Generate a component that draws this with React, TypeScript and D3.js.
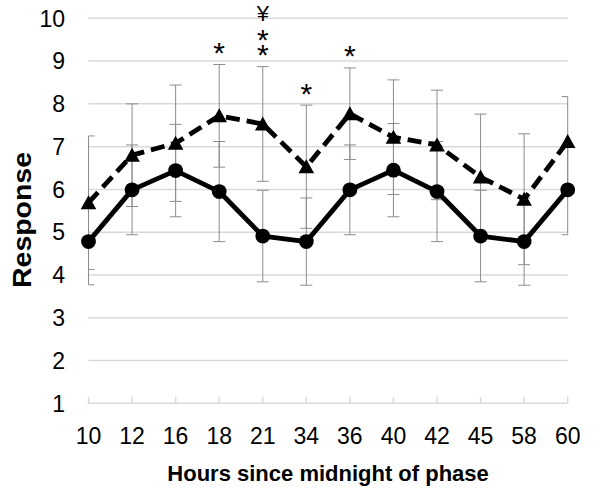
import React from 'react';
import * as d3 from 'd3';

// x categories (hours since midnight of phase)
const hours = ['10', '12', '16', '18', '21', '34', '36', '40', '42', '45', '58', '60'];

// solid line, circle markers
const circleMean = [4.78, 5.99, 6.44, 5.95, 4.91, 4.78, 5.99, 6.45, 5.95, 4.91, 4.78, 5.99];
const circleErr = [1.01, 1.05, 1.08, 1.17, 1.07, 1.02, 1.05, 1.09, 1.17, 1.07, 1.02, 1.05];

// dashed line, triangle markers
const triangleMean = [5.69, 6.8, 7.08, 7.72, 7.53, 6.53, 7.77, 7.22, 7.04, 6.29, 5.77, 7.12];
const triangleErr = [1.56, 1.2, 1.36, 1.2, 1.34, 1.44, 1.07, 1.34, 1.28, 1.47, 1.53, 1.05];

const yTicks = [1, 2, 3, 4, 5, 6, 7, 8, 9, 10];

// significance marks above the triangle series (top to bottom)
const markHours = ['18', '21', '34', '36'];
const markLabels = [['*'], ['¥', '*', '*'], ['*'], ['*']];

const W = 595;
const H = 491;
const FONT = '"Liberation Sans", Arial, sans-serif';

export default function App() {
  const x = d3.scalePoint<string>().domain(hours).range([88.5, 567.7]);
  const y = d3.scaleLinear().domain([1, 10]).range([403.3, 18.3]);
  const [x0, x1] = x.range();

  const seriesLine = d3.line<number>()
    .x((_, i) => x(hours[i])!)
    .y(d => y(d));

  const triPath = (cx: number, cy: number) => {
    const p = d3.path();
    p.moveTo(cx, cy - 7.5);
    p.lineTo(cx + 7.8, cy + 6.5);
    p.lineTo(cx - 7.8, cy + 6.5);
    p.closePath();
    return p.toString();
  };

  const errBars = (means: number[], errs: number[], key: string) =>
    means.map((m, i) => {
      const cx = x(hours[i])!;
      const top = y(m + errs[i]);
      const bot = y(m - errs[i]);
      const cl = Math.max(x0, cx - 6);
      const cr = Math.min(x1, cx + 6);
      return (
        <g key={key + i} stroke="#8c8c8c" strokeWidth={1}>
          <line x1={cx} x2={cx} y1={top} y2={bot} />
          <line x1={cl} x2={cr} y1={top} y2={top} />
          <line x1={cl} x2={cr} y1={bot} y2={bot} />
        </g>
      );
    });

  return (
    <svg width={W} height={H} style={{ position: 'absolute', left: 0, top: 0, background: '#fff' }}
      fontFamily={FONT}>
      {/* grid */}
      {yTicks.map(t => (
        <line key={'g' + t} x1={x0} x2={x1} y1={y(t)} y2={y(t)} stroke="#d9d9d9" strokeWidth={1.5} />
      ))}
      {/* tick marks on the bottom axis */}
      {hours.map(h => (
        <line key={'t' + h} x1={x(h)} x2={x(h)} y1={y(1)} y2={y(1) - 6.5} stroke="#d9d9d9" strokeWidth={1.5} />
      ))}

      {/* y tick labels */}
      {yTicks.map(t => (
        <text key={'yl' + t} x={65} y={y(t) + 8.2} textAnchor="end" fontSize={23} fill="#000">{t}</text>
      ))}
      {/* x tick labels */}
      {hours.map(h => (
        <text key={'xl' + h} x={x(h)} y={444} textAnchor="middle" fontSize={23} fill="#000">{h}</text>
      ))}

      {/* error bars */}
      {errBars(circleMean, circleErr, 'ec')}
      {errBars(triangleMean, triangleErr, 'et')}

      {/* series */}
      <path d={seriesLine(circleMean)!} fill="none" stroke="#000" strokeWidth={4.8} strokeLinejoin="round" />
      <path d={seriesLine(triangleMean)!} fill="none" stroke="#000" strokeWidth={4.8}
        strokeDasharray="14,7" />
      {circleMean.map((v, i) => (
        <circle key={'c' + i} cx={x(hours[i])} cy={y(v)} r={7.4} fill="#000" />
      ))}
      {triangleMean.map((v, i) => (
        <path key={'tr' + i} d={triPath(x(hours[i])!, y(v))} fill="#000" />
      ))}

      {/* significance marks, one text per point, stacked as tspans */}
      {markHours.map((h, k) => {
        const i = hours.indexOf(h);
        const cx = x(h)!;
        const base = y(triangleMean[i] + triangleErr[i]) - 19;
        const labels = markLabels[k];
        return (
          <text key={'m' + k} textAnchor="middle" fill="#000">
            {labels.map((lab, j) => {
              const fromBottom = labels.length - 1 - j;
              if (lab === '¥') {
                const cy = base - fromBottom * 15 - 5;
                return <tspan key={j} x={cx} y={cy + 8} fontSize={22}>{lab}</tspan>;
              }
              const cy = base - fromBottom * 15;
              return <tspan key={j} x={cx} y={cy + 17.5} fontSize={30}>{lab}</tspan>;
            })}
          </text>
        );
      })}

      {/* axis titles */}
      <text x={(x0 + x1) / 2} y={481} textAnchor="middle" fontSize={22} fontWeight="bold" fill="#000">
        Hours since midnight of phase
      </text>
      <text transform={`translate(31,220) rotate(-90)`} textAnchor="middle" fontSize={25} fontWeight="bold"
        fill="#000" textLength={136} lengthAdjust="spacingAndGlyphs">
        Response
      </text>
    </svg>
  );
}
